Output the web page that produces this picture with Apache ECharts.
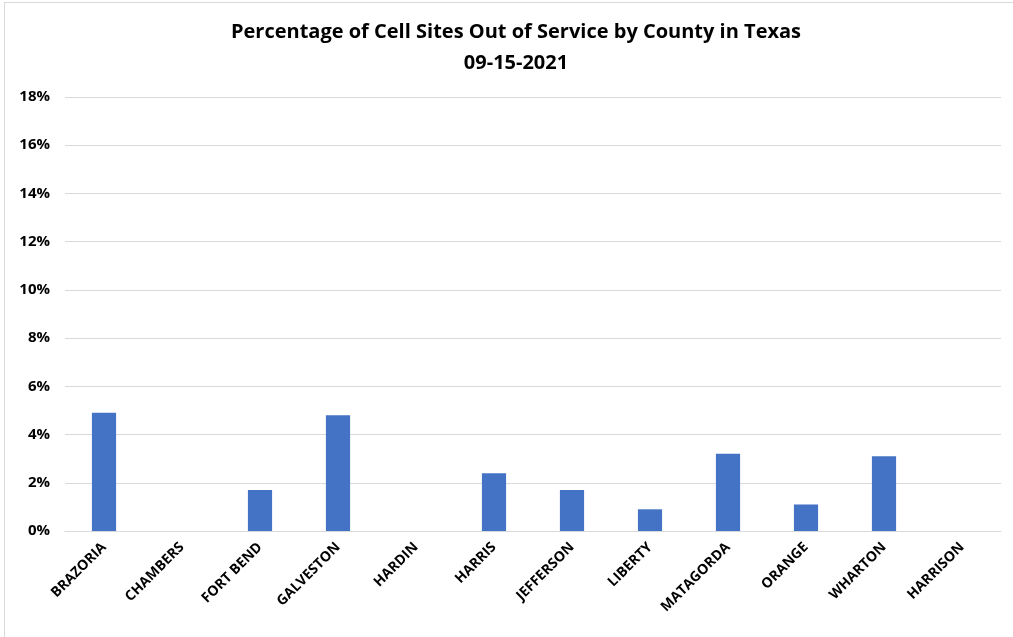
<!DOCTYPE html>
<html>
<head>
<meta charset="utf-8">
<script src="https://cdn.jsdelivr.net/npm/echarts@6/dist/echarts.min.js"></script>
<style>
html,body{margin:0;padding:0;background:#fff;}
#frame{position:absolute;left:4px;top:2px;width:1040px;height:660px;border:1px solid #d9d9d9;box-sizing:border-box;}
#chart{position:absolute;left:0;top:0;width:1013px;height:637px;}
</style>
</head>
<body>
<div id="frame"></div>
<div id="chart"></div>
<script>
const titleLine1 = 'Percentage of Cell Sites Out of Service by County in Texas';
const titleLine2 = '09-15-2021';
const counties = ['BRAZORIA','CHAMBERS','FORT BEND','GALVESTON','HARDIN','HARRIS','JEFFERSON','LIBERTY','MATAGORDA','ORANGE','WHARTON','HARRISON'];
const outOfServicePct = [4.9, 0, 1.7, 4.8, 0, 2.4, 1.7, 0.9, 3.2, 1.1, 3.1, 0];
const yMin = 0, yMax = 18, yStep = 2;

const chart = echarts.init(document.getElementById('chart'));
const font = "'Open Sans', 'Liberation Sans', sans-serif";
chart.setOption({
  animation: false,
  title: {
    text: titleLine1 + '\n' + titleLine2,
    left: 511,
    textAlign: 'center',
    top: 12,
    textStyle: {fontFamily: font, fontWeight: 'bold', fontSize: 20, color: '#000', lineHeight: 31}
  },
  grid: {left: 65, right: 12, top: 97, bottom: 106},
  xAxis: {
    type: 'category',
    data: counties,
    axisLine: {lineStyle: {color: '#d9d9d9', width: 1}},
    axisTick: {show: false},
    axisLabel: {rotate: 45, interval: 0, margin: 14, fontFamily: font, fontWeight: 'bold', fontSize: 14, color: '#000'}
  },
  yAxis: {
    type: 'value',
    min: yMin, max: yMax, interval: yStep,
    axisLine: {show: false},
    axisTick: {show: false},
    splitLine: {lineStyle: {color: '#d9d9d9', width: 1}},
    axisLabel: {formatter: v => v + '%', margin: 15, fontFamily: font, fontWeight: 'bold', fontSize: 15, color: '#000'}
  },
  series: [{
    type: 'bar',
    data: outOfServicePct,
    barWidth: '31%',
    itemStyle: {color: '#4472C4'}
  }]
});
</script>
</body>
</html>
